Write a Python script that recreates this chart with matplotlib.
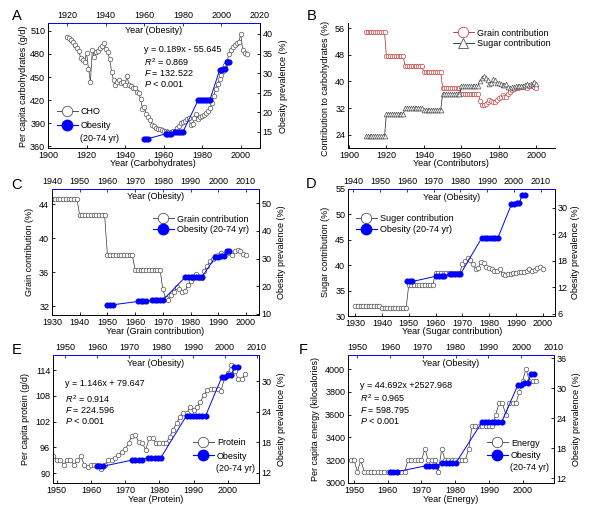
import matplotlib
matplotlib.use('Agg')
import matplotlib.pyplot as plt
from matplotlib.lines import Line2D

plt.rcParams['font.family'] = ['Liberation Sans', 'DejaVu Sans']
plt.rcParams['mathtext.fontset'] = 'custom'
plt.rcParams['mathtext.rm'] = 'Liberation Sans'
plt.rcParams['mathtext.it'] = 'Liberation Sans:italic'
FS = 6.5

# ---------------- data ----------------
ob_years = [1960, 1961, 1962, 1971, 1972, 1973, 1974, 1976, 1977, 1978, 1979, 1980,
            1988, 1989, 1990, 1991, 1992, 1993, 1994, 1999, 2000, 2001, 2002, 2003, 2004]
ob_vals = [13.3, 13.3, 13.3, 14.5, 14.5, 14.5, 14.5, 15.0, 15.0, 15.0, 15.0, 15.0,
           23.2, 23.2, 23.2, 23.2, 23.2, 23.2, 23.2, 30.7, 30.7, 31.1, 31.1, 32.8, 32.8]

cho_years = list(range(1910, 2004))
cho_vals = [502, 500, 498, 495, 492, 488, 484, 474, 472, 470,
            481, 461, 444, 485, 476, 483, 484, 487, 490, 494,
            486, 482, 473, 457, 446, 440, 443, 446, 442, 443,
            440, 451, 440, 438, 436, 436, 430, 429, 422, 409,
            411, 402, 398, 394, 388, 386, 384, 383, 382, 381,
            380, 380, 379, 379, 379, 380, 380, 384, 387, 390,
            392, 393, 395, 397, 388, 389, 397, 402, 396, 398,
            400, 401, 403, 406, 410, 416, 426, 434, 441, 447,
            453, 458, 465, 471, 480, 485, 489, 492, 494, 495,
            506, 485, 481, 480]

contrib_years = list(range(1909, 2001))
grain_vals = [54.8, 54.8, 54.8, 54.8, 54.8, 54.8, 54.8, 54.8, 54.8, 54.8, 54.8,
              47.5, 47.5, 47.5, 47.5, 47.5, 47.5, 47.5, 47.5, 47.5, 47.5,
              44.6, 44.6, 44.6, 44.6, 44.6, 44.6, 44.6, 44.6, 44.6, 44.6,
              42.7, 42.7, 42.7, 42.7, 42.7, 42.7, 42.7, 42.7, 42.7, 42.7,
              38.0, 38.0, 38.0, 38.0, 38.0, 38.0, 38.0, 38.0, 38.0, 38.0,
              36.3, 36.3, 36.3, 36.3, 36.3, 36.3, 36.3, 36.3, 36.3, 36.3,
              34.0, 33.0, 32.8, 33.3, 33.7, 34.3, 34.0, 33.7, 33.8, 34.5,
              35.0, 35.3, 35.8, 35.3, 35.3, 36.2, 36.8, 37.3, 37.6, 37.9,
              38.1, 38.3, 38.2, 38.4, 38.3, 38.1, 38.5, 38.6, 38.5, 38.2, 38.1]
sugar_vals = [23.5, 23.5, 23.5, 23.5, 23.5, 23.5, 23.5, 23.5, 23.5, 23.5, 23.5,
              30.3, 30.3, 30.3, 30.3, 30.3, 30.3, 30.3, 30.3, 30.3, 30.3,
              31.9, 31.9, 31.9, 31.9, 31.9, 31.9, 31.9, 31.9, 31.9, 31.9,
              31.5, 31.5, 31.5, 31.5, 31.5, 31.5, 31.5, 31.5, 31.5, 31.5,
              36.2, 36.2, 36.2, 36.2, 36.2, 36.2, 36.2, 36.2, 36.2, 36.2,
              38.5, 38.5, 38.5, 38.5, 38.5, 38.5, 38.5, 38.5, 38.5, 38.5,
              40.2, 40.9, 41.5, 41.0, 40.3, 39.2, 39.5, 40.7, 40.5, 39.6,
              39.5, 39.3, 38.8, 38.8, 39.2, 38.2, 38.0, 38.2, 38.3, 38.5,
              38.5, 38.6, 38.7, 38.7, 38.9, 39.3, 38.8, 39.1, 39.4, 39.7, 39.2]

protein_years = list(range(1949, 2006))
protein_vals = [94, 93, 93, 92, 93, 93, 92, 93, 94, 92, 91.5, 92, 92, 92, 91, 92, 93, 93,
                93.5, 94.3, 95, 95.5, 97, 98.7, 98.8, 97.2, 97, 95.4, 98.1, 98.1, 97, 97,
                97, 97, 98.5, 100.1, 101.6, 103.1, 103.9, 103.9, 105.5, 104.7, 105.5, 106.6,
                108.2, 109.4, 109.7, 109.7, 109.7, 109.1, 112.1, 113.2, 115.2, 113.8,
                111.9, 111.9, 113.0]

energy_years = list(range(1949, 2005))
energy_vals = [3200, 3200, 3100, 3200,
               3100, 3100, 3100, 3100, 3100, 3100, 3100, 3100, 3100, 3100, 3100, 3100, 3100,
               3200, 3200, 3200, 3200, 3200, 3300, 3200, 3200, 3200, 3100, 3300,
               3200, 3200, 3200, 3200, 3200, 3200, 3200, 3300,
               3500, 3500, 3500, 3500, 3500, 3500, 3500, 3600, 3700, 3700, 3600,
               3700, 3700, 3700, 3800, 3900, 4000, 3900, 3900, 3900]

# ---------------- layout helpers ----------------
W, H = 600, 514
fig = plt.figure(figsize=(6, 5.14), dpi=100)
BLUE = '#0000ff'
GREY = '#555555'


def rect(l, r, t, b):
    return [l / W, 1 - b / H, (r - l) / W, (b - t) / H]


def style(ax):
    ax.tick_params(direction='in', length=2.5, width=0.6, labelsize=FS, pad=2.0)
    for s in ax.spines.values():
        s.set_linewidth(0.7)


def ftext(x, y, s, **kw):
    fig.text(x / W, 1 - y / H, s, fontsize=kw.pop('fontsize', FS), **kw)


def base_axes(box, xlim, ylim, xticks, yticks):
    ax = fig.add_axes(rect(*box))
    style(ax)
    ax.set_xlim(*xlim)
    ax.set_ylim(*ylim)
    ax.set_xticks(xticks)
    ax.set_yticks(yticks)
    ax.spines['top'].set_visible(False)
    ax.spines['right'].set_visible(False)
    return ax


def obesity_axes(box, xlim, ylim, xticks, yticks):
    axo = fig.add_axes(rect(*box), facecolor='none')
    style(axo)
    axo.xaxis.tick_top()
    axo.yaxis.tick_right()
    axo.set_xlim(*xlim)
    axo.set_ylim(*ylim)
    axo.set_xticks(xticks)
    axo.set_yticks(yticks)
    axo.spines['bottom'].set_visible(False)
    axo.spines['left'].set_visible(False)
    axo.spines['top'].set_color(BLUE)
    axo.tick_params(axis='x', color=BLUE)
    axo.plot(ob_years, ob_vals, color=BLUE, lw=0.7, marker='o', ms=4.0,
             mfc=BLUE, mec=BLUE, mew=0.3, zorder=3)
    axo.text(0.5, 0.937, 'Year (Obesity)', transform=axo.transAxes,
             ha='center', va='center', fontsize=FS)
    return axo


def grey_line(ax, x, y, marker='o', ms=3.3):
    ax.plot(x, y, color='#333333', lw=0.5, marker=marker, ms=ms, mfc='white',
            mec=GREY, mew=0.5, zorder=2)


def handle(kind):
    if kind == 'grey':
        return Line2D([], [], color='#333333', lw=0.6, marker='o', ms=7.5,
                      mfc='white', mec=GREY, mew=0.6)
    if kind == 'blue':
        return Line2D([], [], color=BLUE, lw=0.8, marker='o', ms=7.5,
                      mfc=BLUE, mec=BLUE)
    if kind == 'red':
        return Line2D([], [], color='#a02828', lw=0.6, marker='o', ms=7.5,
                      mfc='white', mec='#cc4a4a', mew=0.6)
    if kind == 'tri':
        return Line2D([], [], color='#222222', lw=0.6, marker='^', ms=7.5,
                      mfc='white', mec=GREY, mew=0.6)


def legend(handles, labels, x_px, y_px, spacing):
    fig.legend(handles, labels, loc='upper left',
               bbox_to_anchor=(x_px / W, 1 - (y_px - 5.5) / H),
               frameon=False, fontsize=FS, borderpad=0, borderaxespad=0,
               handlelength=2.3, handletextpad=0.35, labelspacing=spacing)


def stats(x_px, ys, lines):
    for y, s in zip(ys, lines):
        ftext(x_px, y, s, ha='left', va='center')


# ---------------- Panel A ----------------
boxA = (48, 260, 23, 148)
ax = base_axes(boxA, (1900, 2010), (358, 520), range(1900, 2001, 20), range(360, 511, 30))
grey_line(ax, cho_years, cho_vals)
axo = obesity_axes(boxA, (1910, 2020), (10.9, 42.8), range(1920, 2021, 20), range(15, 41, 5))
ftext(17, 16, 'A', fontsize=10.5, ha='center', va='center')
ftext(24, 86, 'Per capita carbohydrates (g/d)', rotation=90, ha='center', va='center')
ftext(284, 86, 'Obesity prevalence (%)', rotation=90, ha='center', va='center')
ftext(153, 163, 'Year (Carbohydrates)', ha='center', va='center')
stats(144, [49, 62, 73, 84],
      ['y = 0.189x - 55.645', r'$R^2$ = 0.869', r'$F$ = 132.522', r'$P$ < 0.001'])
legend([handle('grey'), handle('blue')], ['CHO', 'Obesity'], 57, 113, 0.5)
ftext(80, 138.5, '(20-74 yr)', ha='left', va='center')

# ---------------- Panel B ----------------
boxB = (348, 555, 23, 148)
ax = base_axes(boxB, (1899.5, 2010), (20, 57.5), range(1900, 2001, 20), range(24, 57, 8))
ax.plot(contrib_years, grain_vals, color='#a02828', lw=0.5, marker='o', ms=3.2,
        mfc='white', mec='#cc4a4a', mew=0.5)
ax.plot(contrib_years, sugar_vals, color='#222222', lw=0.5, marker='^', ms=3.4,
        mfc='white', mec=GREY, mew=0.5)
ftext(312, 16, 'B', fontsize=10.5, ha='center', va='center')
ftext(325, 88, 'Contribution to carbohydrates (%)', rotation=90, ha='center', va='center')
ftext(451, 163, 'Year (Contributors)', ha='center', va='center')
legend([handle('red'), handle('tri')], ['Grain contribution', 'Sugar contribution'],
       453, 34, 0.15)

# ---------------- Panel C ----------------
boxC = (52, 259, 189, 315)
ax = base_axes(boxC, (1930, 2004.7), (31.0, 45.8), range(1930, 2001, 10), range(32, 45, 4))
grey_line(ax, contrib_years[21:], grain_vals[21:])
axo = obesity_axes(boxC, (1940, 2014.7), (9.6, 55.2), range(1940, 2011, 10), range(10, 51, 10))
ftext(17, 185, 'C', fontsize=10.5, ha='center', va='center')
ftext(30, 252, 'Grain contribution (%)', rotation=90, ha='center', va='center')
ftext(281.5, 252, 'Obesity prevalence (%)', rotation=90, ha='center', va='center')
ftext(155, 331.5, 'Year (Grain contribution)', ha='center', va='center')
legend([handle('grey'), handle('blue')], ['Grain contribution', 'Obesity (20-74 yr)'],
       153, 220, 0.2)

# ---------------- Panel D ----------------
boxD = (348, 555, 189, 316)
ax = base_axes(boxD, (1927.3, 2004.6), (30, 55), range(1930, 2001, 10), range(30, 56, 5))
grey_line(ax, contrib_years[21:], sugar_vals[21:])
axo = obesity_axes(boxD, (1938.0, 2015.3), (5.5, 34.2), range(1940, 2011, 10), range(6, 31, 6))
ftext(311, 184, 'D', fontsize=10.5, ha='center', va='center')
ftext(326, 252, 'Sugar contribution (%)', rotation=90, ha='center', va='center')
ftext(576, 252, 'Obesity prevalence (%)', rotation=90, ha='center', va='center')
ftext(452, 331.5, 'Year (Sugar contribution)', ha='center', va='center')
legend([handle('grey'), handle('blue')], ['Suger contribution', 'Obesity (20-74 yr)'],
       356, 219.5, 0.25)

# ---------------- Panel E ----------------
boxE = (53, 259, 355, 483)
ax = base_axes(boxE, (1948.9, 2009.1), (87.7, 117.5), range(1950, 2001, 10), range(90, 115, 6))
grey_line(ax, protein_years, protein_vals)
axo = obesity_axes(boxE, (1946.2, 2010.7), (10.0, 35.1), range(1950, 2011, 10), range(12, 31, 6))
ftext(17, 350, 'E', fontsize=10.5, ha='center', va='center')
ftext(26, 419, 'Per capita protein (g/d)', rotation=90, ha='center', va='center')
ftext(281.5, 419, 'Obesity prevalence (%)', rotation=90, ha='center', va='center')
ftext(156, 499, 'Year (Protein)', ha='center', va='center')
stats(65, [384, 399, 410, 421],
      ['y = 1.146x + 79.647', r'$R^2$ = 0.914', r'$F$ = 224.596', r'$P$ < 0.001'])
legend([handle('grey'), handle('blue')], ['Protein', 'Obesity'], 193, 443.5, 0.5)
ftext(216, 468.5, '(20-74 yr)', ha='left', va='center')

# ---------------- Panel F ----------------
boxF = (348, 554, 355, 483)
ax = base_axes(boxF, (1948.2, 2009.3), (3000, 4125), range(1950, 2001, 10), range(3000, 4001, 200))
grey_line(ax, energy_years, energy_vals)
axo = obesity_axes(boxF, (1947.2, 2009.2), (11.05, 36.7), range(1950, 2011, 10), range(12, 37, 6))
ftext(303, 350, 'F', fontsize=10.5, ha='center', va='center')
ftext(315, 419, 'Per capita energy (kilocalories)', rotation=90, ha='center', va='center')
ftext(576.5, 419, 'Obesity prevalence (%)', rotation=90, ha='center', va='center')
ftext(451, 499, 'Year (Energy)', ha='center', va='center')
stats(360, [385, 398, 410, 421],
      ['y = 44.692x +2527.968', r'$R^2$ = 0.965', r'$F$ = 598.795', r'$P$ < 0.001'])
legend([handle('grey'), handle('blue')], ['Energy', 'Obesity'], 487, 444, 0.42)
ftext(510.5, 467.5, '(20-74 yr)', ha='left', va='center')

fig.savefig('out.png', dpi=100)
